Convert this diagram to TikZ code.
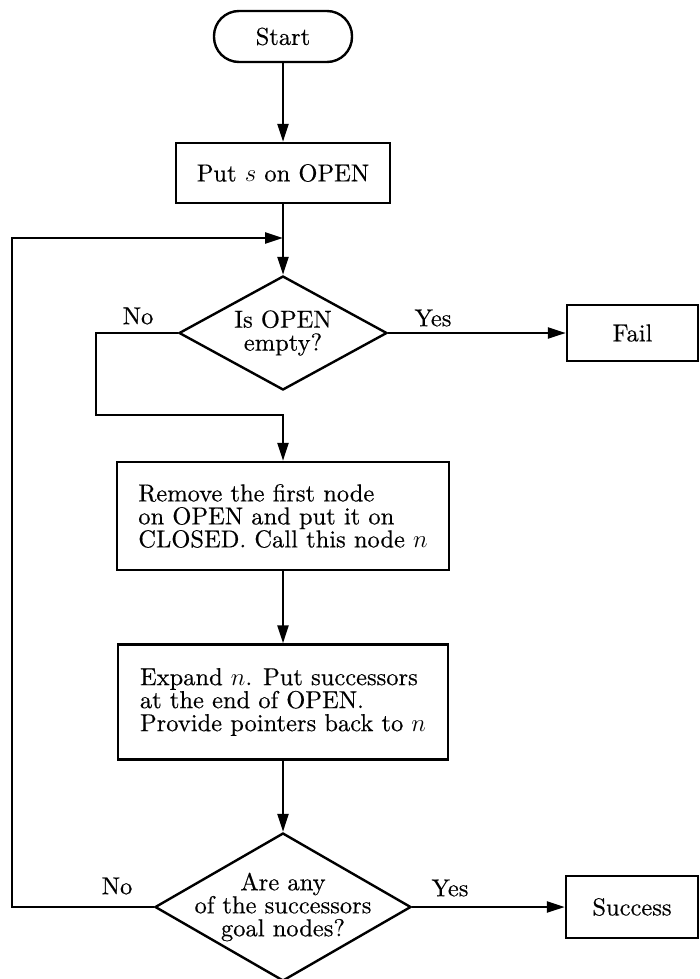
\documentclass[tikz,border=0pt]{standalone}
\usepackage{fontspec}
\setmainfont{lmroman10-regular.otf}[FakeBold=0.4]
\usetikzlibrary{shapes.geometric,arrows.meta}
\begin{document}
\begin{tikzpicture}[x=1pt,y=-1pt,
  font=\fontsize{24.5}{23}\selectfont,
  line width=2.4pt,
  flow/.style={-{Triangle[length=18pt,width=11pt]}},
  proc/.style={draw, rectangle, inner sep=0pt, align=left},
  term/.style={draw, rectangle, rounded corners=25pt, inner sep=0pt},
  test/.style={draw, diamond, inner sep=0pt},
  lbl/.style={inner sep=0pt}]
\useasboundingbox (0,0) rectangle (700,979);

% boxes
\node[term, minimum width=138pt, minimum height=51pt] (start) at (283,36.5) {Start};
\node[proc, minimum width=214pt, minimum height=60pt] (put) at (283,173) {Put $s$ on OPEN};
\node[test, minimum width=208pt, minimum height=114pt] (empty) at (283,333) {};
\node[align=center, inner sep=0pt] (emptytxt) at (empty) {Is OPEN\\empty?};
\node[proc, minimum width=131pt, minimum height=56pt] (fail) at (632.5,333) {Fail};
\node[proc, minimum width=332pt, minimum height=108pt] (remove) at (283,516)
  {Remove the first node\\on OPEN and put it on\\CLOSED. Call this node $n$};
\node[proc, minimum width=330pt, minimum height=115pt] (expand) at (283,702)
  {Expand $n$. Put successors\\at the end of OPEN.\\Provide pointers back to $n$};
\node[test, minimum width=256pt, minimum height=148pt] (goal) at (283,907) {};
\node[align=center, inner sep=0pt] (goaltxt) at (goal) {Are any\\of the successors\\goal nodes?};
\node[proc, minimum width=132pt, minimum height=62pt] (success) at (632,907) {Success};

% branch labels
\node[lbl] (no1) at (138,316) {No};
\node[lbl] (yes1) at (433,318) {Yes};
\node[lbl] (no2) at (117,886) {No};
\node[lbl] (yes2) at (450,888) {Yes};

% helper points
\coordinate (join) at (283,238);
\coordinate (loopL) at (12,238);
\coordinate (noL) at (96,415);

% connectors
\draw[flow] (start) -- (put);
\draw[flow] (put) -- (empty);
\draw[flow] (empty.east) -- (fail.west);
\draw[flow] (empty.west) -| (noL) -| (remove.north);
\draw[flow] (remove) -- (expand);
\draw[flow] (expand) -- (goal);
\draw[flow] (goal.east) -- (success.west);
\draw[flow] (goal.west) -| (loopL) -- (join);
\end{tikzpicture}
\end{document}
